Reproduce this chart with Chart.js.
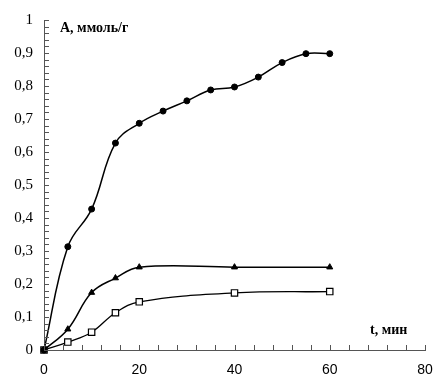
<!DOCTYPE html>
<html>
<head>
<meta charset="utf-8">
<script src="https://cdn.jsdelivr.net/npm/chart.js@4/dist/chart.umd.min.js"></script>
<style>
  body { margin: 0; background: #fff; }
  #wrap { width: 446px; height: 390px; position: relative; }
</style>
</head>
<body>
<div id="wrap"><canvas id="myChart"></canvas></div>
<script>
// время, мин
var tCircle = [0, 5, 10, 15, 20, 25, 30, 35, 40, 45, 50, 55, 60];
var aCircle = [0, 0.313, 0.427, 0.627, 0.687, 0.724, 0.755, 0.788, 0.797, 0.827, 0.871, 0.898, 0.898];
var tTriangle = [0, 5, 10, 15, 20, 40, 60];
var aTriangle = [0, 0.063, 0.174, 0.218, 0.251, 0.251, 0.251];
var tSquare = [0, 5, 10, 15, 20, 40, 60];
var aSquare = [0, 0.024, 0.054, 0.113, 0.146, 0.173, 0.177];

function pts(xs, ys) {
  return xs.map(function (x, i) { return { x: x, y: ys[i] }; });
}

// inner ticks + axis titles
var innerTicks = {
  id: 'innerTicks',
  afterDraw: function (chart) {
    var ctx = chart.ctx;
    var xs = chart.scales.x, ys = chart.scales.y;
    var a = chart.chartArea;
    ctx.save();
    ctx.strokeStyle = '#555';
    ctx.lineWidth = 1;
    ctx.beginPath();
    for (var v = 0; v <= 1.0001; v += 0.02) {
      var py = Math.round(ys.getPixelForValue(v)) + 0.5;
      ctx.moveTo(a.left, py);
      ctx.lineTo(a.left + 5, py);
    }
    for (var t = 0; t <= 80; t += 4) {
      var px = Math.round(xs.getPixelForValue(t)) + 0.5;
      ctx.moveTo(px, a.bottom);
      ctx.lineTo(px, a.bottom - 5);
    }
    ctx.stroke();
    ctx.fillStyle = '#000';
    ctx.font = 'bold 14px "Liberation Serif"';
    ctx.textBaseline = 'middle';
    ctx.fillText('A, ммоль/г', 60, 28);
    ctx.fillText('t, мин', 370, 330);
    ctx.restore();
  }
};

var chart = new Chart(document.getElementById('myChart').getContext('2d'), {
  type: 'line',
  data: {
    datasets: [
      {
        data: pts(tCircle, aCircle),
        borderColor: '#000',
        backgroundColor: '#000',
        borderWidth: 1.5,
        pointStyle: 'circle',
        pointRadius: 3,
        pointBorderWidth: 1,
        tension: 0.4
      },
      {
        data: pts(tTriangle, aTriangle),
        borderColor: '#000',
        backgroundColor: '#000',
        borderWidth: 1.5,
        pointStyle: 'triangle',
        pointRadius: 3.5,
        pointBorderWidth: 1,
        tension: 0.4
      },
      {
        data: pts(tSquare, aSquare),
        borderColor: '#000',
        backgroundColor: '#fff',
        borderWidth: 1.3,
        pointStyle: 'rect',
        pointRadius: 4.5,
        pointBorderWidth: 1.2,
        tension: 0.4
      }
    ]
  },
  options: {
    responsive: true,
    maintainAspectRatio: false,
    animation: false,
    clip: false,
    layout: { padding: { top: 15, right: 21, left: 0, bottom: 0 } },
    plugins: { legend: { display: false }, tooltip: { enabled: false } },
    scales: {
      x: {
        type: 'linear',
        min: 0,
        max: 80,
        afterFit: function (s) { s.height = 40; },
        grid: { display: false, drawTicks: false },
        border: { display: true, color: '#555', width: 1 },
        ticks: {
          stepSize: 4,
          padding: 12,
          autoSkip: false,
          maxRotation: 0,
          color: '#000',
          font: { family: '"Liberation Sans"', size: 14 },
          callback: function (v) { return v % 20 === 0 ? String(v) : ''; }
        }
      },
      y: {
        min: 0,
        max: 1,
        afterFit: function (s) { s.width = 44; },
        grid: { display: false, drawTicks: false },
        border: { display: true, color: '#555', width: 1 },
        ticks: {
          stepSize: 0.02,
          padding: 11,
          autoSkip: false,
          color: '#000',
          font: { family: '"Liberation Serif"', size: 15 },
          callback: function (v) {
            var r = Math.round(v * 10);
            if (Math.abs(v * 10 - r) > 0.001) return '';
            return (r / 10).toString().replace('.', ',');
          }
        }
      }
    }
  },
  plugins: [innerTicks]
});
</script>
</body>
</html>
